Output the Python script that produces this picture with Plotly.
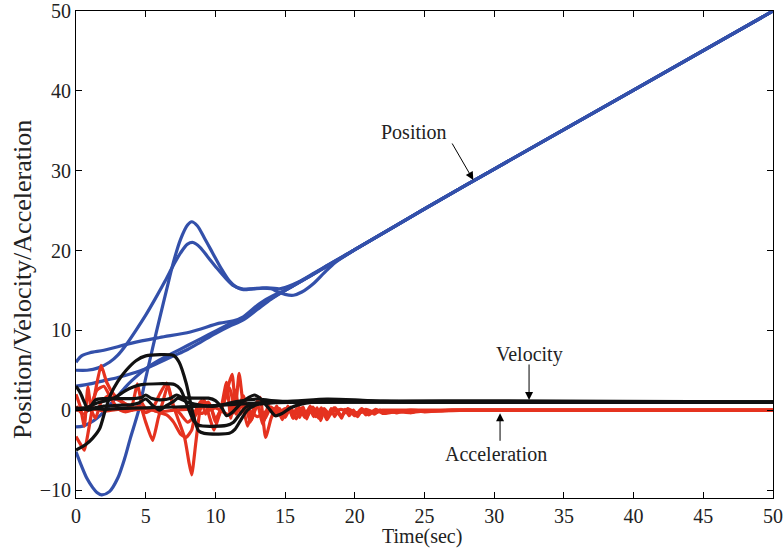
import plotly.graph_objects as go

# ---------------- data ----------------
# Position (blue)
pos1_t = [0, 0.4, 1.0, 2.0, 4.0, 6.0, 8.2, 10.3, 11.3, 12.0, 13.2, 14.2, 15.0, 16.0, 17.0, 18.0, 20.0, 25.0, 30.0, 40.0, 50.0]
pos1_y = [6.0, 6.8, 7.2, 7.5, 8.4, 9.1, 9.8, 10.9, 11.2, 11.7, 13.4, 14.4, 15.0, 16.0, 17.0, 18.1, 20.1, 25.2, 30.2, 40.1, 50.0]

pos2_t = [0, 0.8, 1.6, 2.4, 3.0, 3.6, 4.3, 5.0, 5.7, 6.4, 7.0, 7.5, 8.0, 8.4, 8.9, 9.5, 10.1, 10.7, 11.3, 11.9, 12.6, 13.3, 14.0, 14.6, 15.2, 16.0, 17.0, 18.0, 20.0, 25.0, 30.0, 40.0, 50.0]
pos2_y = [5.0, 5.0, 5.3, 6.0, 6.9, 8.2, 10.0, 11.9, 14.0, 16.2, 18.2, 19.7, 20.8, 21.0, 20.4, 19.1, 17.8, 16.6, 15.6, 15.2, 15.2, 15.3, 15.3, 15.2, 15.5, 16.1, 17.1, 18.1, 20.1, 25.2, 30.2, 40.1, 50.0]

pos3_t = [0, 0.4, 0.8, 1.2, 1.5, 1.84, 2.4, 3.0, 3.5, 3.9, 4.5, 5.0, 5.5, 6.0, 6.5, 7.0, 7.5, 8.0, 8.3, 8.7, 9.2, 9.8, 10.4, 11.0, 11.5, 12.0, 12.7, 13.4, 14.0, 14.5, 15.0, 15.6, 16.2, 17.0, 17.8, 18.6, 20.0, 25.0, 30.0, 40.0, 50.0]
pos3_y = [-5.2, -7.0, -8.6, -9.7, -10.3, -10.6, -10.2, -8.5, -6.0, -3.5, 0.0, 4.0, 7.8, 11.5, 15.1, 18.6, 21.4, 23.2, 23.6, 23.1, 21.6, 19.7, 17.8, 16.2, 15.4, 15.1, 15.2, 15.3, 15.2, 14.8, 14.5, 14.4, 14.8, 15.8, 17.2, 18.5, 20.1, 25.2, 30.2, 40.1, 50.0]

pos4_t = [0, 1, 2, 3, 4, 5, 6, 7, 8, 9, 10, 11, 12, 13, 14, 15, 16, 17, 18, 20, 25, 30, 40, 50]
pos4_y = [3.0, 3.3, 3.7, 4.1, 4.6, 5.2, 6.0, 6.8, 7.6, 8.6, 9.6, 10.5, 11.3, 12.6, 13.9, 15.0, 16.0, 17.0, 18.0, 20.1, 25.2, 30.2, 40.1, 50.0]

pos5_t = [0, 0.5, 1.0, 1.5, 2.0, 2.5, 3.0, 3.5, 4.0, 5.0, 6.0, 7.0, 8.0, 9.0, 10.0, 11.0, 12.0, 13.0, 14.0, 15.0, 16.0, 17.0, 18.0, 20.0, 25.0, 30.0, 40.0, 50.0]
pos5_y = [-2.1, -2.0, -1.6, -1.0, -0.2, 0.8, 1.8, 2.8, 3.7, 5.2, 6.3, 7.2, 8.1, 9.0, 9.9, 10.8, 11.6, 12.8, 14.0, 15.0, 16.0, 17.0, 18.0, 20.1, 25.2, 30.2, 40.1, 50.0]

# Velocity (black)
vel1_t = [0, 0.7, 1.2, 1.7, 2.1, 2.5, 3.0, 3.6, 4.3, 5.0, 7.0, 7.4, 7.9, 8.4, 8.8, 9.2, 11.0, 11.4, 11.8, 12.3, 13.0, 14.0, 16.0, 20.0, 50.0]
vel1_y = [-5.0, -4.3, -3.5, -2.3, 0.0, 2.0, 3.6, 5.0, 6.2, 6.8, 6.85, 6.0, 3.4, -0.5, -2.6, -2.9, -2.9, -2.4, -1.3, 0.0, 0.7, 0.9, 1.0, 1.0, 1.0]

vel2_t = [0, 0.5, 1.0, 1.5, 2.4, 3.0, 3.5, 4.1, 4.7, 7.1, 7.5, 8.0, 8.4, 8.8, 10.8, 11.3, 11.7, 12.2, 13.0, 15.0, 50.0]
vel2_y = [0.3, 0.2, 0.5, 0.9, 1.3, 1.8, 2.4, 2.9, 3.2, 3.2, 2.6, 0.5, -1.2, -1.9, -1.9, -1.5, -0.6, 0.4, 0.9, 1.0, 1.0]

vel3_t = [0, 0.3, 0.6, 0.85, 1.1, 1.4, 2.0, 3.0, 4.0, 4.7, 5.0, 5.4, 6.0, 6.8, 7.2, 7.6, 8.5, 9.5, 10.0, 10.5, 10.8, 11.2, 11.8, 12.4, 12.8, 13.2, 13.8, 14.3, 14.8, 15.4, 16.0, 17.0, 50.0]
vel3_y = [3.0, 2.2, 1.0, 0.1, 0.6, 1.3, 1.45, 1.45, 1.45, 1.6, 1.9, 1.5, 1.3, 1.5, 1.9, 1.6, 1.5, 1.5, 1.2, 0.2, -0.7, -0.3, 0.8, 1.6, 1.9, 1.5, 0.3, -0.7, -0.4, 0.3, 0.7, 1.0, 1.0]

vel4_t = [0, 1, 2, 3, 4, 4.5, 5, 5.5, 6, 6.5, 7, 7.3, 8, 9, 10, 11, 12, 13, 14, 15, 18, 20, 22, 25, 50]
vel4_y = [0.1, 0.2, 0.5, 0.6, 0.7, 0.9, 1.4, 0.6, 0.0, 0.6, 1.1, 1.5, 1.0, 0.6, 0.5, 0.9, 1.2, 1.4, 1.2, 1.1, 1.4, 1.3, 1.1, 1.0, 1.0]

vel5_t = [0, 0.5, 0.9, 1.3, 2, 3, 5, 7, 9, 11, 13, 15, 18, 21, 25, 50]
vel5_y = [0.0, 0.3, 0.0, 0.2, 0.1, 0.2, 0.3, 0.4, 0.5, 0.7, 0.9, 1.0, 1.2, 1.15, 1.0, 1.0]

# Acceleration (red)
acc1_t = [0, 0.3, 0.6, 0.9, 1.3, 1.8, 2.2, 2.7, 3.2, 3.7, 4.2, 4.6, 5.0, 5.5, 5.9, 6.3, 6.6, 6.9, 7.3, 7.8, 8.1, 8.3, 8.6, 8.9, 9.2, 9.6, 9.9, 10.3, 10.7, 11.0, 11.2, 11.45, 11.7, 12.0, 12.3, 12.7, 13.2, 13.6, 14.0, 14.4, 14.8, 15.2, 15.6, 16.0, 16.4, 16.8, 17.2, 17.6, 18.0, 18.5, 19.0, 19.5, 20.0, 20.5, 21.0, 21.5, 22, 23, 24, 25, 26, 28, 30, 40, 50]
acc1_y = [-3.3, -4.2, -5.0, -2.5, 1.5, 5.6, 3.5, 2.0, 1.2, 0.6, 0.3, 0.5, -1.5, -3.8, -1.0, 1.5, 3.2, 1.0, -1.0, -3.5, -6.5, -8.1, -4.0, 0.0, 1.3, -1.0, -2.5, -0.5, 1.5, 3.5, 4.5, 0.5, 4.6, 0.5, -2.0, 0.0, 1.6, -3.4, -1.0, 0.5, -1.2, 0.5, -1.0, 0.4, -0.9, 0.5, -0.8, 0.3, -1.2, 0.3, -0.8, 0.2, -0.7, 0.2, -0.6, 0.1, -0.4, -0.2, -0.3, -0.1, -0.1, 0, 0, 0, 0]

acc2_t = [0, 0.3, 0.6, 0.85, 1.1, 1.4, 1.8, 2.3, 3.0, 3.5, 4.0, 4.4, 4.7, 5.0, 5.4, 6.0, 6.5, 7.0, 7.5, 7.9, 8.3, 8.6, 9.0, 9.3, 9.6, 10.0, 10.4, 10.8, 11.1, 11.4, 11.8, 12.2, 12.6, 13.0, 13.4, 13.8, 14.2, 14.6, 15.0, 15.4, 15.8, 16.2, 16.6, 17.0, 17.4, 17.8, 18.2, 18.6, 19.0, 19.6, 20.2, 20.8, 21.4, 22, 23, 24, 25, 27, 30, 50]
acc2_y = [2.0, 0.5, -2.0, 2.9, 0.0, -1.0, 1.0, 1.8, 1.3, 0.8, 0.6, 3.3, 1.0, 0.2, 0.1, -0.3, -0.6, -1.5, -3.0, -3.4, -2.5, 0.0, 1.2, -0.5, 0.8, -1.5, 0.2, 3.5, -1.0, 2.5, -0.5, 0.8, -1.2, 0.9, -1.8, 0.6, -0.6, 0.2, -0.9, 0.4, -1.1, 0.3, -0.7, 0.4, -1.0, 0.2, -0.6, 0.3, -0.7, 0.1, -0.5, 0.1, -0.3, -0.1, -0.2, 0.0, -0.1, 0, 0, 0]

acc3_t = [0, 0.5, 1, 1.5, 2, 2.5, 3, 3.5, 4, 4.5, 5, 5.5, 6, 6.5, 7, 7.5, 8, 8.5, 9, 9.5, 10, 10.5, 11, 11.5, 12, 12.5, 13, 13.5, 14, 14.5, 15, 16, 17, 18, 19, 20, 22, 25, 30, 50]
acc3_y = [0.5, -0.5, 0.3, 2.5, 3.0, 1.5, 0.2, -0.2, 0.0, 0.4, -0.3, 0.2, 2.0, 3.4, 0.5, -0.5, -1.5, -0.8, 0.5, 1.0, -1.0, 0.5, 2.8, -0.5, 1.8, -1.5, 0.6, -1.2, 0.4, -0.4, 0.2, -0.5, 0.2, -0.4, 0.1, -0.3, 0, 0, 0, 0]

acc4_t = [0, 1, 2, 3, 4, 5, 6, 7, 8, 9, 10, 11, 12, 13, 14, 15, 15.3, 15.55, 15.8, 16.05, 16.3, 16.55, 16.8, 17.05, 17.3, 17.55, 17.8, 18.05, 18.3, 18.55, 18.8, 19.05, 19.3, 19.6, 19.9, 20.2, 20.5, 20.8, 21.1, 21.4, 21.8, 22.2, 22.6, 23.0, 23.5, 24.0, 24.5, 25.0, 26.0, 27.0, 30.0, 50.0]
acc4_y = [0, 0.2, -0.1, 0.1, 0, 0.2, -0.2, 0, 0.1, -0.4, 0.3, -0.6, 0.5, -0.8, 0.2, -0.3, 0.3, -1.0, 0.2, -0.9, 0.4, -1.1, 0.1, -0.8, 0.3, -1.3, 0.0, -0.9, 0.2, -0.8, -0.1, -1.0, 0.1, -0.7, 0.0, -0.8, 0.0, -0.6, -0.1, -0.5, 0.0, -0.4, -0.1, -0.35, -0.05, -0.3, -0.1, -0.2, -0.1, 0.0, 0.0, 0.0]

x_ticks = [0, 5, 10, 15, 20, 25, 30, 35, 40, 45, 50]
y_ticks = [-10, 0, 10, 20, 30, 40, 50]

BLUE = "#3350AA"
RED = "#E5321F"
BLACK = "#111111"
FONT = "Liberation Serif, Times New Roman, serif"

fig = go.Figure()

def add(t, y, color, shape="spline", smooth=0.8):
    fig.add_trace(go.Scatter(x=t, y=y, mode="lines",
                             line=dict(color=color, width=3.2, shape=shape, smoothing=smooth),
                             showlegend=False, hoverinfo="skip"))

for t, y in [(pos1_t, pos1_y), (pos2_t, pos2_y), (pos3_t, pos3_y), (pos4_t, pos4_y), (pos5_t, pos5_y)]:
    add(t, y, BLUE)
for t, y in [(acc1_t, acc1_y), (acc2_t, acc2_y), (acc3_t, acc3_y), (acc4_t, acc4_y)]:
    add(t, y, RED, smooth=0.5)
for t, y in [(vel1_t, vel1_y), (vel2_t, vel2_y), (vel3_t, vel3_y), (vel4_t, vel4_y), (vel5_t, vel5_y)]:
    add(t, y, BLACK, smooth=0.7)

axis_common = dict(showgrid=False, zeroline=False, showline=True, linecolor="black", linewidth=1,
                   mirror="ticks", ticks="inside", ticklen=6, tickcolor="black", tickwidth=1,
                   automargin=False,
                   tickfont=dict(family=FONT, size=20, color="#222222"))

fig.update_xaxes(range=[0, 50], tickvals=x_ticks, **axis_common)
fig.update_yaxes(range=[-11, 50], tickvals=y_ticks, **axis_common)

ann_font = dict(family=FONT, size=20, color="#222222")
annotations = [
    dict(x=24.25, y=34.9, text="Position", showarrow=False, font=ann_font),
    dict(x=28.5, y=28.83, text="", showarrow=True, ax=-22, ay=-38, arrowhead=2, arrowsize=1.6, arrowwidth=1, arrowcolor="black"),
    dict(x=32.56, y=7.0, text="Velocity", showarrow=False, font=ann_font),
    dict(x=32.5, y=1.28, text="", showarrow=True, ax=0, ay=-37, arrowhead=2, arrowsize=1.6, arrowwidth=1, arrowcolor="black"),
    dict(x=30.15, y=-5.45, text="Acceleration", showarrow=False, font=ann_font),
    dict(x=30.42, y=-0.39, text="", showarrow=True, ax=0, ay=29, arrowhead=2, arrowsize=1.6, arrowwidth=1, arrowcolor="black"),
    dict(xref="paper", yref="paper", x=0.497, y=0, yshift=-38, yanchor="middle", text="Time(sec)",
         showarrow=False, font=dict(family=FONT, size=20, color="#222222")),
    dict(xref="paper", yref="paper", x=0, xshift=-54, y=0.4476, xanchor="center", yanchor="middle", textangle=-90,
         text="Position/Velocity/Acceleration", showarrow=False, font=dict(family=FONT, size=26, color="#222222")),
]

fig.update_layout(width=783, height=551, margin=dict(l=76, r=10, t=11, b=53),
                  paper_bgcolor="white", plot_bgcolor="white", annotations=annotations)

fig.write_html("out.html")
